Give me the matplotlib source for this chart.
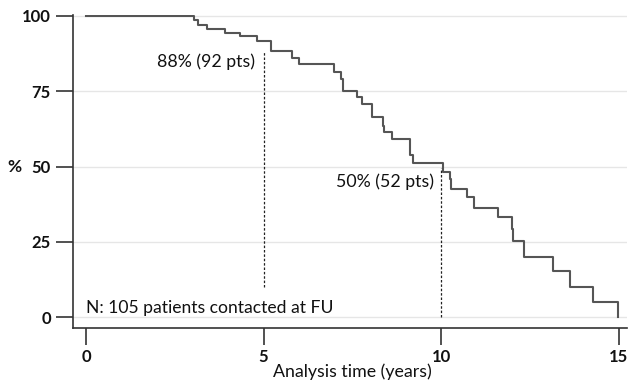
import matplotlib
matplotlib.use("Agg")
import matplotlib.pyplot as plt

# Kaplan-Meier style curve (years, % still in follow-up)
times = [0, 3.04, 3.15, 3.41, 3.91, 4.33, 4.81, 5.21, 5.8, 6.0, 6.98, 7.18, 7.23,
         7.63, 7.77, 8.05, 8.36, 8.39, 8.61, 9.12, 9.2, 10.05, 10.24, 10.27,
         10.72, 10.91, 11.61, 11.98, 12.02, 12.34, 13.14, 13.62, 14.27, 14.99]
surv = [100, 98.7, 97.0, 95.7, 94.4, 93.4, 91.7, 88.4, 86.0, 84.0, 81.4, 79.1, 75.1,
        73.1, 70.9, 66.4, 63.5, 61.5, 59.3, 53.8, 51.2, 48.2, 45.8, 42.4,
        39.9, 36.2, 33.1, 29.2, 25.2, 19.9, 15.4, 10.1, 5.1, 0]

marker_years = [5, 10]
marker_low = [10, 0]
marker_high = [88, 49.5]
marker_labels = ["88% (92 pts)", "50% (52 pts)"]

yticks = [0, 25, 50, 75, 100]
xticks = [0, 5, 10, 15]

plt.rcParams['font.family'] = ['Lato', 'DejaVu Sans']
txt_color = '#111111'

fig = plt.figure(figsize=(6.31, 3.80), dpi=100)
W, H = 631, 380
ax = fig.add_axes([73 / W, 52 / H, (627 - 73) / W, 313 / H])

ax.set_xlim(-0.366, 15.23)
ax.set_ylim(-3.65, 100.33)

ax.yaxis.grid(True, color='#e6e6e6', linewidth=1)
ax.set_axisbelow(True)

ax.step(times, surv, where='post', color='#555555', linewidth=1.5)

for yr, lo, hi in zip(marker_years, marker_low, marker_high):
    ax.vlines(yr, lo, hi, colors='#222222', linewidth=0.9, linestyles=(0, (2, 1.5)))

ax.text(4.76, 84.7, marker_labels[0], ha='right', va='center', fontsize=12.8,
        color=txt_color)
ax.text(9.79, 44.9, marker_labels[1], ha='right', va='center', fontsize=12.8,
        color=txt_color)
ax.text(0, 3.0, "N: 105 patients contacted at FU", ha='left', va='center',
        fontsize=12.6, color=txt_color)

for side in ['top', 'right']:
    ax.spines[side].set_visible(False)
for side in ['left', 'bottom']:
    ax.spines[side].set_color('#333333')
    ax.spines[side].set_linewidth(1.2)

ax.set_xticks(xticks)
ax.set_yticks(yticks)
ax.tick_params(axis='both', length=12, width=1.2, color='#333333',
               labelsize=12, labelcolor=txt_color)
for lab in ax.get_xticklabels() + ax.get_yticklabels():
    lab.set_fontweight('bold')
ax.tick_params(axis='y', pad=4)
ax.tick_params(axis='x', pad=3)

ax.set_xlabel("Analysis time (years)", fontsize=12.8, color=txt_color)
ax.xaxis.set_label_coords((352 - 73) / (627 - 73), -0.112)
ax.set_ylabel("%", rotation=0, fontsize=12.5, color=txt_color, fontweight='bold',
              va='center', ha='center')
ax.yaxis.set_label_coords((14 - 73) / (627 - 73), (328 - 167) / 313)

fig.savefig("out.png", dpi=100)
